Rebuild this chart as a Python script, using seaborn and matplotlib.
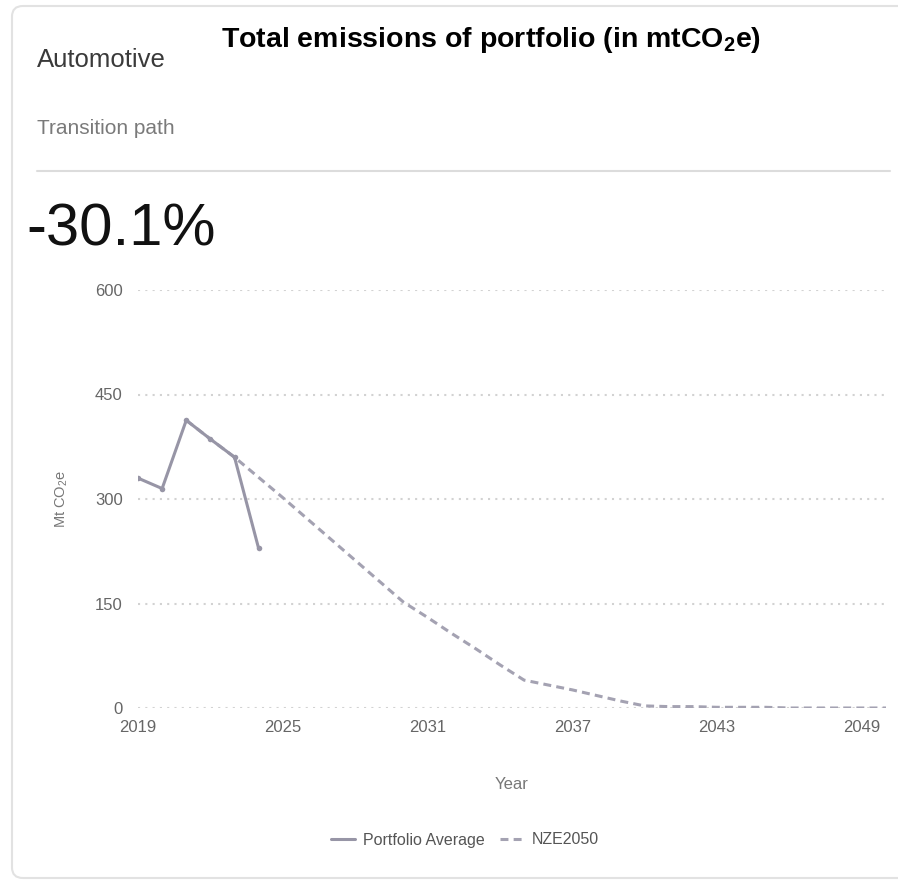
import numpy as np
import pandas as pd
import matplotlib
matplotlib.use("Agg")
import matplotlib.pyplot as plt
from matplotlib.lines import Line2D
from matplotlib.patches import FancyBboxPatch
import seaborn as sns

# data
portfolio_years = [2019, 2020, 2021, 2022, 2023, 2024]
portfolio_values = [330, 315, 413, 386, 360, 229]

nze_years = [2021, 2022, 2023, 2024, 2025, 2026, 2027, 2028, 2029, 2030,
             2031, 2032, 2033, 2034, 2035, 2036, 2037, 2038, 2039, 2040,
             2041, 2042, 2043, 2044, 2045, 2046, 2047, 2048, 2049, 2050]
nze_values = [413, 386, 360, 331, 302, 272, 242, 212, 182, 152,
              130, 107, 85, 62, 40, 33, 26, 18, 10, 3,
              2, 2, 1, 1, 1, 0, 0, 0, 0, 0]

x_ticks = [2019, 2025, 2031, 2037, 2043, 2049]
y_ticks = [0, 150, 300, 450, 600]

sns.set_style("white")
plt.rcParams["font.family"] = ["Liberation Sans", "DejaVu Sans"]
plt.rcParams["mathtext.fontset"] = "custom"
plt.rcParams["mathtext.rm"] = "Liberation Sans"
plt.rcParams["mathtext.bf"] = "Liberation Sans:bold"

df_port = pd.DataFrame({"Year": portfolio_years, "Value": portfolio_values})
df_nze = pd.DataFrame({"Year": nze_years, "Value": nze_values})

fig = plt.figure(figsize=(8.98, 8.84), dpi=100)
W, H = 898, 884

# card frame
card = FancyBboxPatch((12 / W, 6 / H), 1.2, (878 - 6) / H,
                      boxstyle="round,pad=0,rounding_size=0.012",
                      transform=fig.transFigure, fill=False,
                      edgecolor="#e2e2e2", linewidth=1.5)
fig.patches.append(card)
fig.add_artist(Line2D([37 / W, 890 / W], [1 - 171 / H, 1 - 171 / H],
                      transform=fig.transFigure, color="#dcdcdc", lw=1.5))

fig.text(37 / W, 1 - 60 / H, "Automotive", fontsize=18.5, color="#3a3a3a",
         va="center", ha="left")
fig.text(37 / W, 1 - 128 / H, "Transition path", fontsize=15, color="#7a7a7a",
         va="center", ha="left")
fig.text(26 / W, 1 - 230 / H, "-30.1%", fontsize=43, color="#111111",
         va="center", ha="left")
fig.text(491 / W, 1 - 40 / H, r"Total emissions of portfolio (in mtCO$_\mathbf{2}$e)",
         fontsize=20.5, fontweight="bold", color="black", va="center", ha="center")

ax = fig.add_axes([138 / W, 176 / H, (886 - 138) / W, (708 - 290) / H])

sns.lineplot(data=df_nze, x="Year", y="Value", ax=ax, color="#a4a2b2",
             linewidth=2.2, dashes=False, linestyle=(0, (2.6, 1.7)))
sns.lineplot(data=df_port, x="Year", y="Value", ax=ax, color="#9795a6",
             linewidth=2.2, marker="o", markersize=4, markeredgewidth=0)

ax.set_xlim(2019, 2050)
ax.set_ylim(0, 600)
ax.set_xticks(x_ticks)
ax.set_yticks(y_ticks)
ax.tick_params(axis="both", length=0, labelsize=12, labelcolor="#666666")
ax.tick_params(axis="x", pad=9)
ax.tick_params(axis="y", pad=11)
for s in ax.spines.values():
    s.set_visible(False)
ax.grid(False)
for yv in y_ticks:
    ax.axhline(yv, color="#d2d2d2", lw=1.5, linestyle=(0, (1, 2.5)), zorder=0)

ax.set_xlabel("Year", fontsize=12, color="#777777", labelpad=30)
ax.set_ylabel("Mt CO$_2$e", fontsize=10.5, color="#777777", labelpad=18)

handles = [Line2D([], [], color="#9795a6", lw=2.2),
           Line2D([], [], color="#a4a2b2", lw=2.2, linestyle=(0, (2.6, 1.7)))]
fig.legend(handles, ["Portfolio Average", "NZE2050"], loc="center",
           bbox_to_anchor=(465 / W, 1 - 840 / H), ncol=2, frameon=False,
           fontsize=11.5, labelcolor="#555555", handlelength=1.5,
           columnspacing=1.0, handletextpad=0.5)

fig.savefig("out.png", dpi=100)
